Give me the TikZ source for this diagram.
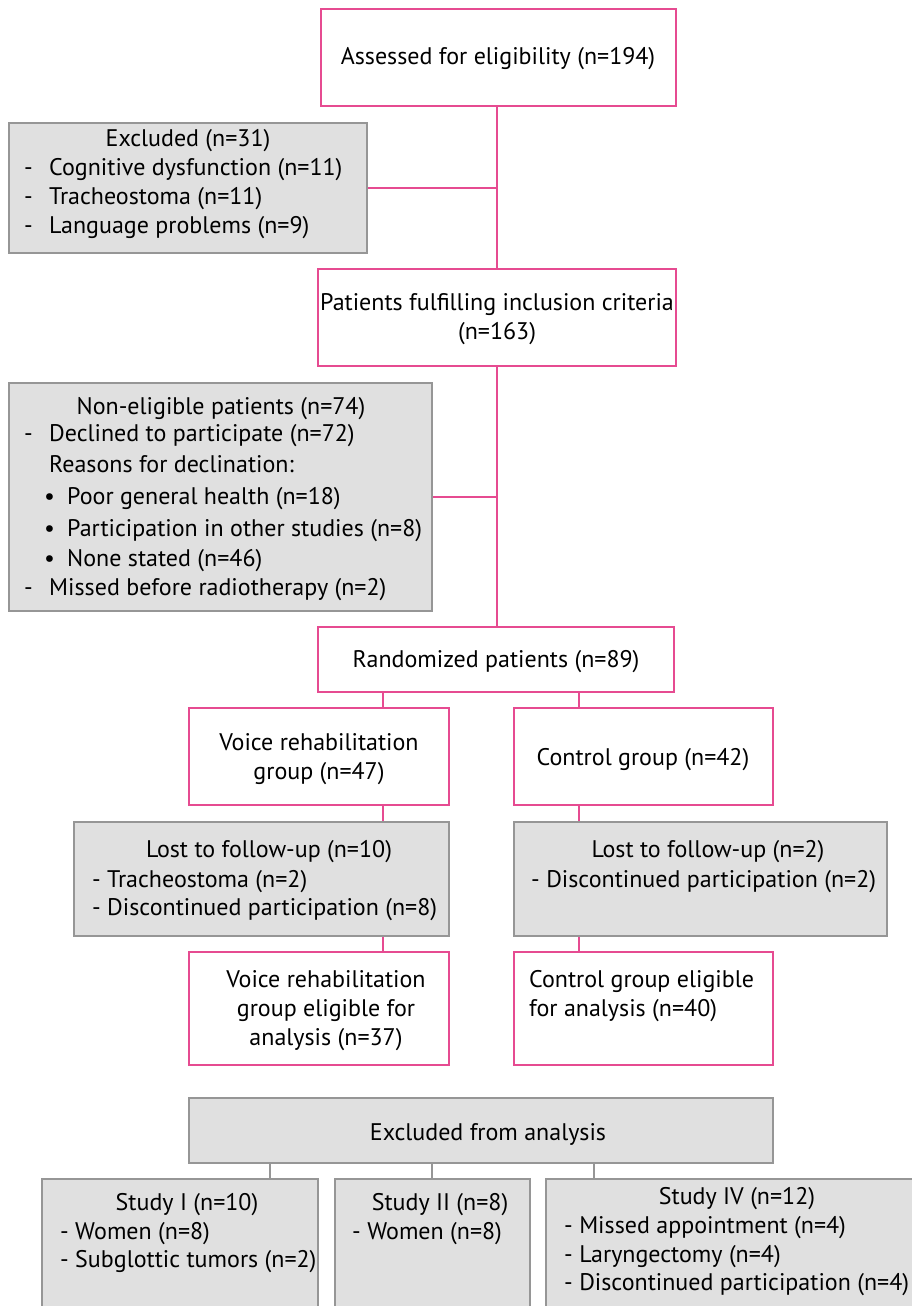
\documentclass[tikz,border=0pt]{standalone}
\usepackage{fontspec}
\setmainfont{PT Sans}
\definecolor{pinkc}{RGB}{230,75,145}
\definecolor{grayb}{RGB}{150,150,150}
\definecolor{grayf}{RGB}{224,224,224}
\begin{document}
\begin{tikzpicture}[x=1pt,y=-1pt,
  pbox/.style={draw=pinkc,line width=1.6pt,fill=white},
  gbox/.style={draw=grayb,line width=1.6pt,fill=grayf},
  pline/.style={draw=pinkc,line width=1.4pt},
  gline/.style={draw=grayb,line width=1.4pt},
  txt/.style={inner sep=0pt,font=\fontsize{24}{28}\selectfont},
  tl/.style={txt,anchor=base west},
  tc/.style={txt,anchor=base},
]
\useasboundingbox (0,0) rectangle (911,1306);
\def\bo{7}
% connectors (drawn first, boxes cover them)
\coordinate (j1) at (497,188);
\coordinate (j2) at (497,497);
\draw[pline] (497,106) -- (497,627);
\draw[pline] (367,188) -- (j1);
\draw[pline] (432,497) -- (j2);
\draw[pline] (383,692) -- (383,708);
\draw[pline] (579,692) -- (579,708);
\draw[pline] (383,805) -- (383,822);
\draw[pline] (579,805) -- (579,822);
\draw[pline] (383,936) -- (383,952);
\draw[pline] (579,936) -- (579,952);
\draw[gline] (270,1163) -- (270,1179);
\draw[gline] (432,1163) -- (432,1179);
\draw[gline] (594,1163) -- (594,1179);

% boxes
\path[pbox] (321,9) rectangle (676,106);
\node[tc] (t1) at (498,58+\bo) {Assessed for eligibility (n=194)};

\path[gbox] (9,123) rectangle (367,253);
\node[tc] (ex0) at (188,139+\bo) {Excluded (n=31)};
\node[tl] (exd1) at (24,168+\bo) {-};
\node[tl] (ex1) at (49,168+\bo) {Cognitive dysfunction (n=11)};
\node[tl] (exd2) at (24,197+\bo) {-};
\node[tl] (ex2) at (49,197+\bo) {Tracheostoma (n=11)};
\node[tl] (exd3) at (24,226+\bo) {-};
\node[tl] (ex3) at (49,226+\bo) {Language problems (n=9)};

\path[pbox] (318,269) rectangle (676,366);
\node[tc] (t2a) at (497,303+\bo) {Patients fulfilling inclusion criteria};
\node[tc] (t2b) at (497,332+\bo) {(n=163)};

\path[gbox] (9,383) rectangle (432,611);
\node[tc] (ne0) at (221,407+\bo) {Non-eligible patients (n=74)};
\node[tl] (ned1) at (24,434+\bo) {-};
\node[tl] (ne1) at (49,434+\bo) {Declined to participate (n=72)};
\node[tl] (ne2) at (49,465+\bo) {Reasons for declination:};
\node[tl] (neb1) at (44,497+\bo) {•};
\node[tl] (ne3) at (67,497+\bo) {Poor general health (n=18)};
\node[tl] (neb2) at (44,529+\bo) {•};
\node[tl] (ne4) at (67,529+\bo) {Participation in other studies (n=8)};
\node[tl] (neb3) at (44,559+\bo) {•};
\node[tl] (ne5) at (67,559+\bo) {None stated (n=46)};
\node[tl] (ned6) at (24,588+\bo) {-};
\node[tl] (ne6) at (49,588+\bo) {Missed before radiotherapy (n=2)};

\path[pbox] (318,627) rectangle (674,692);
\node[tc] (r0) at (496,660+\bo) {Randomized patients (n=89)};

\path[pbox] (189,708) rectangle (449,805);
\node[tc] (vr1) at (319,743+\bo) {Voice rehabilitation};
\node[tc] (vr2) at (319,772+\bo) {group (n=47)};

\path[pbox] (514,708) rectangle (773,805);
\node[tc] (cg1) at (643,758+\bo) {Control group (n=42)};

\path[gbox] (74,822) rectangle (449,936);
\node[tc] (lL0) at (269,850+\bo) {Lost to follow-up (n=10)};
\node[tl] (lL1) at (92,880+\bo) {- Tracheostoma (n=2)};
\node[tl] (lL2) at (92,908+\bo) {- Discontinued participation (n=8)};

\path[gbox] (514,822) rectangle (887,936);
\node[tc] (lR0) at (708,850+\bo) {Lost to follow-up (n=2)};
\node[tl] (lR1) at (531,880+\bo) {- Discontinued participation (n=2)};

\path[pbox] (189,952) rectangle (449,1065);
\node[tc] (eL1) at (326,980+\bo) {Voice rehabilitation};
\node[tc] (eL2) at (326,1009+\bo) {group eligible for};
\node[tc] (eL3) at (326,1038+\bo) {analysis (n=37)};

\path[pbox] (514,952) rectangle (773,1065);
\node[tl] (eR1) at (529,980+\bo) {Control group eligible};
\node[tl] (eR2) at (529,1009+\bo) {for analysis (n=40)};

\path[gbox] (189,1098) rectangle (773,1163);
\node[tc] (xa) at (488,1133+\bo) {Excluded from analysis};

\path[gbox] (42,1179) rectangle (318,1330);
\node[tc] (s1h) at (187,1203+\bo) {Study I (n=10)};
\node[tl] (s11) at (60,1232+\bo) {- Women (n=8)};
\node[tl] (s12) at (60,1260+\bo) {- Subglottic tumors (n=2)};

\path[gbox] (335,1179) rectangle (530,1330);
\node[tc] (s2h) at (440,1203+\bo) {Study II (n=8)};
\node[tl] (s21) at (352,1232+\bo) {- Women (n=8)};

\path[gbox] (546,1179) rectangle (940,1330);
\node[tc] (s4h) at (737,1197+\bo) {Study IV (n=12)};
\node[tl] (s41) at (564,1226+\bo) {- Missed appointment (n=4)};
\node[tl] (s42) at (564,1255+\bo) {- Laryngectomy (n=4)};
\node[tl] (s43) at (564,1283+\bo) {- Discontinued participation (n=4)};
\end{tikzpicture}
\end{document}
